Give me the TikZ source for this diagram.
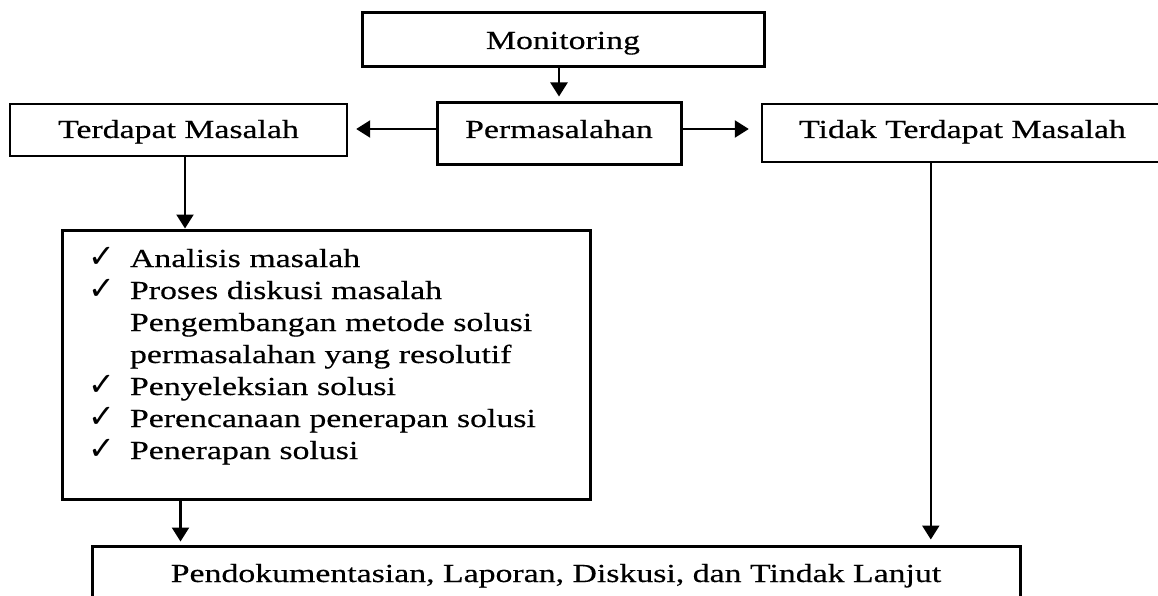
\documentclass[tikz,border=0pt]{standalone}
\usepackage{fontspec}
\setmainfont{Liberation Serif}[FakeStretch=1.3, FakeBold=0.4]
\newfontfamily\symfont{DejaVu Sans}
\usetikzlibrary{arrows.meta, positioning}

\newcommand{\itemchk}{\makebox[42pt][l]{\symfont\fontsize{32pt}{32pt}\selectfont ✓}}
\newcommand{\itemgap}{\hspace*{42pt}}

\begin{document}
\begin{tikzpicture}[
  x=1pt, y=-1pt,
  every node/.style={font=\fontsize{26pt}{32pt}\selectfont},
  box/.style={rectangle, draw, line width=3pt, inner sep=0pt, text height=18pt},
  thinbox/.style={box, line width=2.4pt},
  arrow/.style={-{Triangle[length=14pt, width=17pt]}, line width=2.3pt},
]
\useasboundingbox (0,0) rectangle (1158,596);

% Monitoring
\node[box, minimum width=402pt, minimum height=54pt, text depth=0pt] (mon) at (563,40) {Monitoring};

% Permasalahan and its two outcomes
\node[box, minimum width=244pt, minimum height=62pt, text depth=10pt] (perm) at (559,134) {Permasalahan};
\node[thinbox, minimum width=337pt, minimum height=52pt, text depth=2pt] (terd) at (178.5,130) {Terdapat Masalah};
\node[thinbox, minimum width=401pt, minimum height=58pt, text depth=8pt] (tidak) at (962.5,133) {Tidak Terdapat Masalah};

% Steps of problem solving
\node[box, text width=476pt, inner xsep=26pt, minimum height=269pt, align=left, text height=18pt, text depth=213pt] (list) at (326,364.5) {
  \itemchk Analisis masalah\\
  \itemchk Proses diskusi masalah\\
  \itemgap Pengembangan metode solusi\\
  \itemgap permasalahan yang resolutif\\
  \itemchk Penyeleksian solusi\\
  \itemchk Perencanaan penerapan solusi\\
  \itemchk Penerapan solusi
};

% Follow-up
\node[box, minimum width=928pt, minimum height=70pt, text depth=16pt] (pendok) at (556,581) {Pendokumentasian, Laporan, Diskusi, dan Tindak Lanjut};

% Arrows
\draw[arrow, shorten >=5pt] (mon.south -| perm.north) -- (perm.north);
\draw[arrow, shorten >=8pt] ([yshift=5pt]perm.west) -- ([yshift=5pt]perm.west -| terd.east);
\draw[arrow, shorten >=12pt] ([yshift=5pt]perm.east) -- ([yshift=5pt]perm.east -| tidak.west);
\draw[arrow] ([xshift=6.5pt]terd.south) -- ([xshift=6.5pt]terd.south |- list.north);
\draw[arrow, shorten >=3pt] ([xshift=120pt]list.south west) -- ([xshift=120pt]list.south west |- pendok.north);
\draw[arrow, shorten >=5pt] ([xshift=170pt]tidak.south west) -- ([xshift=170pt]tidak.south west |- pendok.north);

\end{tikzpicture}
\end{document}
